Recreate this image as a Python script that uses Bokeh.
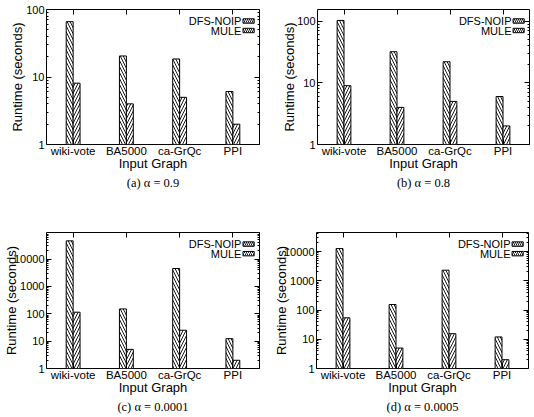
from bokeh.plotting import figure
from bokeh.layouts import column, row
from bokeh.models import (FixedTicker, LinearAxis, LogAxis, Title, Range1d,
                          ColumnDataSource)
from bokeh.core.properties import value
from bokeh.embed import file_html
from bokeh.resources import INLINE

# ---- data -----------------------------------------------------------------
graphs = ["wiki-vote", "BA5000", "ca-GrQc", "PPI"]
series = ["DFS-NOIP", "MULE"]

dfs_a = [66, 20.5, 18.5, 6.1]
mule_a = [8.1, 4, 5, 2]

dfs_b = [103, 32, 22, 6]
mule_b = [9, 4, 5, 2]

dfs_c = [46000, 150, 4500, 12.3]
mule_c = [114, 5, 25, 2]

dfs_d = [12600, 154, 2300, 12]
mule_d = [54, 5, 15.5, 2]

captions = ["(a) α = 0.9", "(b) α = 0.8", "(c) α = 0.0001", "(d) α = 0.0005"]

yticks_small = [1, 10, 100]
yticks_large = [1, 10, 100, 1000, 10000]

SANS = "Liberation Sans"
SERIF = "Liberation Serif"
BAR_W = 0.13


def minor_ticks(top):
    out = []
    dec = 1
    while dec < top:
        for m in range(2, 10):
            out.append(m * dec)
        dec *= 10
    return out


def panel(dfs, mule, caption, yticks, ymax, w, h, bl, br, bt, bb, ystand):
    p = figure(width=w, height=h, y_axis_type="log",
               x_range=Range1d(-0.5, 3.5), y_range=Range1d(1, ymax),
               output_backend="svg", toolbar_location=None,
               min_border_left=bl, min_border_right=br,
               min_border_top=bt, min_border_bottom=bb)
    p.grid.visible = False
    p.outline_line_color = "black"
    p.outline_line_alpha = 1
    p.outline_line_width = 1
    p.background_fill_color = "white"
    p.border_fill_color = "white"

    idx = list(range(len(graphs)))
    src = ColumnDataSource(dict(
        x1=[i - BAR_W / 2 for i in idx], x2=[i + BAR_W / 2 for i in idx],
        dfs=dfs, mule=mule))
    p.vbar(x="x1", top="dfs", bottom=1, width=BAR_W, source=src,
           fill_color="white", line_color="black", line_width=1,
           hatch_pattern="\\", hatch_color="black", hatch_scale=6,
           hatch_weight=0.9)
    p.vbar(x="x2", top="mule", bottom=1, width=BAR_W, source=src,
           fill_color="white", line_color="black", line_width=1,
           hatch_pattern="/", hatch_color="black", hatch_scale=6,
           hatch_weight=0.9)

    # key drawn in the upper right corner, text left of the sample box
    lx0, lx1 = 3.5 - 0.31, 3.5 - 0.10
    tx = 3.5 - 0.34
    fw = 1.0 / 135.0
    for k, (name, pat) in enumerate(zip(series, ["\\", "/"])):
        fy = 1 - (11.5 + 9.5 * k) * fw
        yc = ymax ** fy
        yb = ymax ** (fy - 2.2 * fw)
        yt = ymax ** (fy + 2.2 * fw)
        p.quad(left=[lx0], right=[lx1], bottom=[yb], top=[yt],
               fill_color="white", line_color="black", line_width=1,
               hatch_pattern=pat, hatch_color="black", hatch_scale=4,
               hatch_weight=0.9)
        p.text(x=[tx], y=[yc], text=[name], text_align="right",
               text_baseline="middle", text_font=value(SANS),
               text_font_size="11px", text_color="black")

    # bottom axis: category names at integer positions
    xa = p.xaxis[0]
    xa.ticker = FixedTicker(ticks=idx)
    xa.major_label_overrides = {i: g for i, g in enumerate(graphs)}
    xa.axis_label = "Input Graph"
    # left axis: decades only
    ya = p.yaxis[0]
    ya.ticker = FixedTicker(ticks=yticks, minor_ticks=minor_ticks(ymax))
    ya.major_label_overrides = {t: str(t) for t in yticks}
    ya.axis_label = "Runtime (seconds)"

    for ax in (xa, ya):
        ax.axis_line_color = None
        ax.major_tick_in = 5
        ax.major_tick_out = 0
        ax.minor_tick_in = 2
        ax.minor_tick_out = 0
        ax.major_tick_line_color = "black"
        ax.minor_tick_line_color = "black"
        ax.major_label_text_font = SANS
        ax.major_label_text_color = "black"
        ax.axis_label_text_font = SANS
        ax.axis_label_text_font_size = "13px"
        ax.axis_label_text_font_style = "normal"
        ax.axis_label_text_color = "black"
    xa.major_label_text_font_size = "11.5px"
    ya.major_label_text_font_size = "11px"
    xa.major_label_standoff = 0
    xa.axis_label_standoff = -4
    ya.major_label_standoff = 2
    ya.axis_label_standoff = ystand

    # mirrored ticks on the top and right frame edges
    top = LinearAxis(ticker=FixedTicker(ticks=idx), axis_line_color=None,
                     major_tick_in=5, major_tick_out=0,
                     minor_tick_in=0, minor_tick_out=0,
                     major_label_text_color=None,
                     major_label_text_font_size="1px",
                     major_label_standoff=0)
    p.add_layout(top, "above")
    right = LogAxis(ticker=FixedTicker(ticks=yticks,
                                       minor_ticks=minor_ticks(ymax)),
                    axis_line_color=None, major_tick_in=5, major_tick_out=0,
                    minor_tick_in=2, minor_tick_out=0,
                    major_label_text_color=None,
                    major_label_text_font_size="1px",
                    major_label_standoff=0)
    p.add_layout(right, "right")

    cap = Title(text=caption, align="center", text_font=SERIF,
                text_font_size="12.5px", text_font_style="normal",
                text_color="black", standoff=0)
    p.add_layout(cap, "below")
    return p


pa = panel(dfs_a, mule_a, captions[0], yticks_small, 100,
           267, 205, 46, 8, 9, 61, -2)
pb = panel(dfs_b, mule_b, captions[1], yticks_small, 155,
           267, 205, 50, 5, 7, 60, -3)
pc = panel(dfs_c, mule_c, captions[2], yticks_large, 93000,
           267, 212, 46, 8, 27, 49, -8)
pd = panel(dfs_d, mule_d, captions[3], yticks_large, 44700,
           267, 212, 49, 6, 27, 49, -8)

layout = column(row(pa, pb), row(pc, pd))

with open("out.html", "w") as f:
    f.write(file_html(layout, INLINE))
